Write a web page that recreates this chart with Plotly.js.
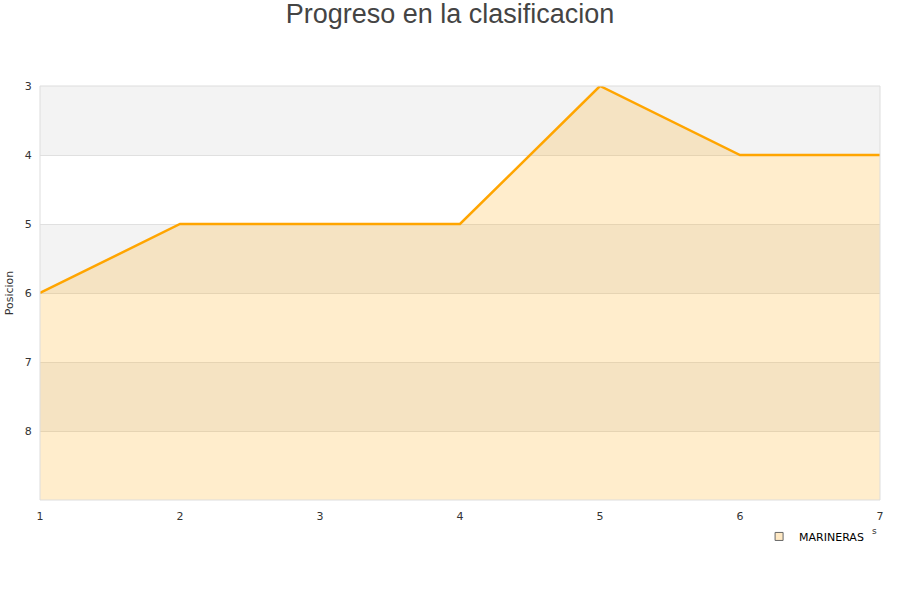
<!DOCTYPE html>
<html>
<head>
<meta charset="utf-8">
<script src="https://cdn.plot.ly/plotly-3.0.1.min.js"></script>
<style>html,body{margin:0;padding:0;background:#fff;}#chart{width:900px;height:600px;}</style>
</head>
<body>
<div id="chart"></div>
<script>
// Round-by-round league position
const jornadas = [1, 2, 3, 4, 5, 6, 7];
const posiciones = [6, 5, 5, 5, 3, 4, 4];
const equipo = "MARINERAS";
const posTicks = [3, 4, 5, 6, 7, 8];
const fondo = 9;

// alternating horizontal bands
const shapes = [];
[[3, 4], [5, 6], [7, 8]].forEach(([a, b]) => {
  shapes.push({type: 'rect', xref: 'paper', yref: 'y', x0: 0, x1: 1, y0: a, y1: b,
    fillcolor: '#f3f3f3', line: {width: 0}, layer: 'below'});
});
shapes.push({type: 'rect', xref: 'paper', yref: 'paper', x0: 0, x1: 1, y0: 0, y1: 1,
  line: {color: '#dddddd', width: 1}, fillcolor: 'rgba(0,0,0,0)', layer: 'above'});

const traces = [
  {x: jornadas, y: jornadas.map(() => fondo), mode: 'lines', line: {width: 0},
   hoverinfo: 'skip', showlegend: false},
  {x: jornadas, y: posiciones, mode: 'lines', fill: 'tonexty',
   fillcolor: 'rgba(255,165,0,0.2)', line: {color: '#ffa500', width: 2.5},
   name: equipo, showlegend: false},
  {x: [null], y: [null], mode: 'markers', name: equipo,
   marker: {symbol: 'square', size: 8, color: '#ffe9c4', line: {color: '#666', width: 1}}}
];

const layout = {
  width: 900, height: 600,
  paper_bgcolor: '#ffffff', plot_bgcolor: '#ffffff',
  margin: {l: 40, r: 20, t: 86, b: 100},
  title: {text: 'Progreso en la clasificacion', x: 0.5, xanchor: 'center', y: 0.993, yanchor: 'top',
    font: {family: 'Liberation Sans, Arial, sans-serif', size: 27, color: '#444444'}},
  font: {family: 'DejaVu Sans, sans-serif', size: 11, color: '#333333'},
  xaxis: {range: [1, 7], tickvals: jornadas, showgrid: false, zeroline: false,
    showline: false, ticks: 'outside', ticklen: 6, tickcolor: 'rgba(0,0,0,0)',
    tickfont: {size: 11, color: '#333'}},
  yaxis: {range: [fondo, 3], tickvals: posTicks, showgrid: true, gridcolor: '#e0e0e0',
    zeroline: false, showline: false, ticks: 'outside', ticklen: 5, tickcolor: 'rgba(0,0,0,0)',
    tickfont: {size: 11, color: '#333'},
    title: {text: 'Posicion', font: {size: 11, color: '#333'}, standoff: 8}},
  shapes: shapes,
  showlegend: true,
  legend: {x: 0.987, xanchor: 'right', y: -0.053, yanchor: 'top', orientation: 'h',
    font: {size: 11, color: '#000'}, bgcolor: 'rgba(0,0,0,0)'},
  annotations: [{xref: 'paper', yref: 'paper', x: 0.994, y: -0.075, text: 's', showarrow: false,
    font: {size: 9, color: '#333'}, xanchor: 'center', yanchor: 'middle'}]
};

Plotly.newPlot('chart', traces, layout, {displayModeBar: false, staticPlot: true});
</script>
</body>
</html>
